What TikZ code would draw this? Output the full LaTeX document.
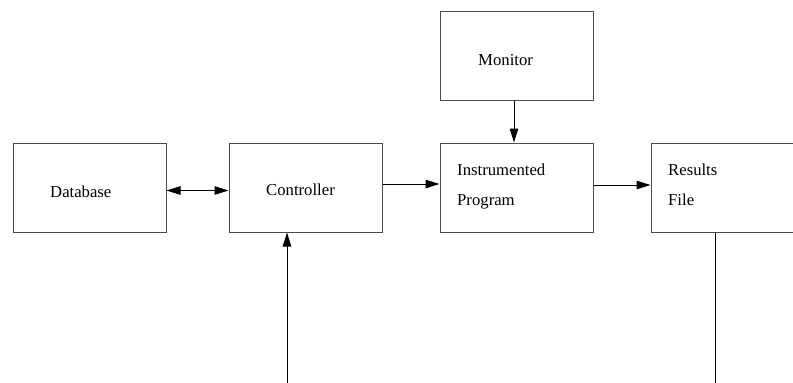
\documentclass[tikz,border=0pt]{standalone}
\usepackage{fontspec}
\setmainfont{Liberation Serif}
\usetikzlibrary{arrows.meta}
\begin{document}
\begin{tikzpicture}[x={(1pt,0)},y={(0,-1pt)},
  blockbox/.style={draw=black!70,line width=1pt,minimum width=153pt,minimum height=89pt,inner sep=0pt},
  lbl/.style={anchor=base west,inner sep=0pt,font=\fontsize{16.7}{20}\selectfont},
  conn/.style={line width=1pt,-{Triangle[length=14pt,width=8.5pt]}},
  bconn/.style={line width=1pt,{Triangle[length=14pt,width=8.5pt]}-{Triangle[length=14pt,width=8.5pt]}},
  plain/.style={line width=1pt}]
\useasboundingbox (0,0) rectangle (793,383);
\clip (0,0) rectangle (793,383);
\node[blockbox] (db) at (89.5,187.5) {};
\node[blockbox] (ctl) at (305.5,187.5) {};
\node[blockbox] (ins) at (516.5,187.5) {};
\node[blockbox] (mon) at (516.5,55.5) {};
\node[blockbox] (res) at (727.5,187.5) {};
\node[lbl] (tdb) at (50,197) {Database};
\node[lbl] (tctl) at (266,195) {Controller};
\node[lbl] (tins1) at (457,175) {Instrumented};
\node[lbl] (tins2) at (457,205) {Program};
\node[lbl] (tmon) at (478,65) {Monitor};
\node[lbl] (tres1) at (668,175) {Results};
\node[lbl] (tres2) at (668,205) {File};
\coordinate (inbot) at (287,383);
\coordinate (outbot) at (715,383);
\draw[bconn] ([yshift=-3pt]db.east) -- ([yshift=-3pt]ctl.west);
\draw[conn] ([yshift=3.5pt]ctl.east) -- ([yshift=3.5pt]ins.west);
\draw[conn] ([yshift=2.5pt]ins.east) -- ([yshift=2.5pt]res.west);
\draw[conn] ([xshift=-2.5pt]mon.south) -- ([xshift=-2.5pt]ins.north);
\draw[conn] (inbot) -- (inbot |- ctl.south);
\draw[plain] (outbot |- res.south) -- (outbot);
\end{tikzpicture}
\end{document}
